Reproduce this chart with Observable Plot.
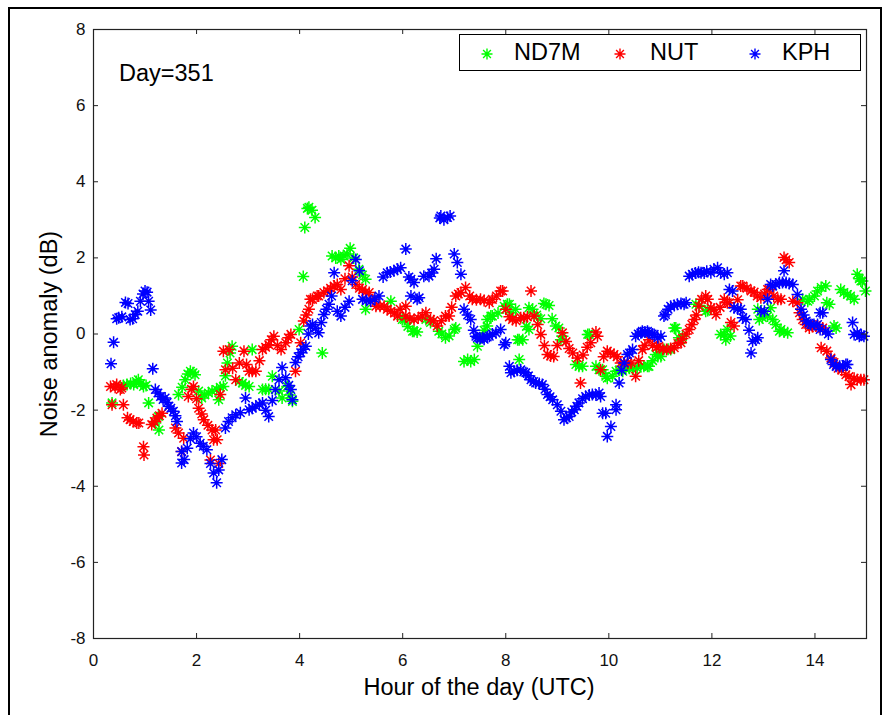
<!DOCTYPE html>
<html>
<head>
<meta charset="utf-8">
<script src="https://cdn.jsdelivr.net/npm/d3@7"></script>
<script src="https://cdn.jsdelivr.net/npm/@observablehq/plot@0.6"></script>
<style>
  html, body { margin: 0; padding: 0; background: #fff; }
  #wrap { position: relative; width: 889px; height: 715px; overflow: hidden; background: #fff;
          font-family: "Liberation Sans", Arial, Helvetica, sans-serif; color: #000; }
  #outer { position: absolute; left: 8px; top: 7px; width: 874px; height: 730px; border: 2px solid #000; box-sizing: border-box; }
  .title { position: absolute; font-size: 23.5px; white-space: nowrap; line-height: 1; }
  #xlabel { left: 479px; top: 676px; transform: translateX(-50%); }
  #ylabel { left: 50px; top: 334px; transform: translate(-50%, -50%) rotate(-90deg); }
  #day { left: 119px; top: 62px; }
  #legend { position: absolute; left: 459px; top: 34px; width: 402px; height: 37px; border: 1px solid #000;
            box-sizing: border-box; background: #fff; }
  #legend .item { position: absolute; top: 0; height: 35px; display: flex; align-items: center; font-size: 23.5px; }
  #legend svg { position: absolute; }
</style>
</head>
<body>
<div id="wrap">
  <div id="outer"></div>
  <div id="chart"></div>
  <div id="day" class="title">Day=351</div>
  <div id="legend"></div>
  <div id="xlabel" class="title">Hour of the day (UTC)</div>
  <div id="ylabel" class="title">Noise anomaly (dB)</div>
</div>
<script>
// ---- data: [hour (UTC), noise anomaly (dB)] ----
const seriesNames = ["ND7M", "NUT", "KPH"];
const seriesColors = ["#00ff00", "#ff0000", "#0000ff"];
const xTicks = [0, 2, 4, 6, 8, 10, 12, 14];
const yTicks = [-8, -6, -4, -2, 0, 2, 4, 6, 8];
const dayLabel = "Day=351";

const nd7m = [
[0.36,-1.81],[0.58,-1.35],[0.65,-1.33],[0.72,-1.30],[0.78,-1.33],[0.83,-1.25],[0.87,-1.20],[0.92,-1.30],[0.97,-1.38],[1.02,-1.35],
[1.07,-1.81],[1.20,-2.34],[1.26,-2.17],[1.27,-2.52],[1.65,-1.59],[1.72,-1.40],[1.78,-1.20],[1.83,-1.05],[1.88,-0.98],[1.93,-1.02],
[1.97,-1.07],[2.04,-1.50],[2.10,-1.68],[2.16,-1.60],[2.23,-1.55],[2.30,-1.50],[2.39,-1.46],[2.43,-1.73],[2.46,-1.40],[2.52,-1.38],
[2.56,-1.10],[2.60,-0.76],[2.65,-0.50],[2.69,-0.32],[2.83,-1.25],[2.89,-1.29],[2.95,-1.35],[3.02,-1.38],[3.08,-0.41],[3.28,-1.46],
[3.34,-1.45],[3.40,-1.46],[3.47,-1.11],[3.60,-1.50],[3.66,-1.68],[3.76,-1.38],[3.81,-1.60],[3.86,-1.77],[3.99,0.12],[4.07,1.51],
[4.10,2.80],[4.15,3.30],[4.18,3.33],[4.24,3.25],[4.30,3.06],[4.44,-0.50],[4.63,2.05],[4.70,2.00],[4.76,2.05],[4.80,1.96],
[4.86,2.05],[4.92,2.10],[4.98,2.25],[5.05,2.00],[5.15,1.70],[5.22,1.55],[5.28,1.44],[5.28,0.65],[5.77,0.86],[5.99,0.38],
[6.03,0.38],[6.10,0.20],[6.19,0.07],[6.22,0.07],[6.28,0.05],[6.45,0.38],[6.54,0.30],[6.70,0.07],[6.76,0.00],[6.83,-0.10],
[6.90,-0.05],[7.00,0.12],[7.03,0.16],[7.19,-0.72],[7.26,-0.67],[7.32,-0.72],[7.39,-0.67],[7.45,-0.32],[7.52,-0.10],[7.58,0.10],
[7.64,0.21],[7.64,0.38],[7.71,0.47],[7.74,0.47],[7.85,0.55],[7.97,0.73],[8.03,0.78],[8.07,0.78],[8.10,0.56],[8.19,0.65],
[8.23,-0.15],[8.26,-0.15],[8.33,-0.15],[8.26,-0.67],[8.40,0.20],[8.45,0.12],[8.45,0.69],[8.52,0.65],[8.60,0.50],[8.68,0.40],
[8.74,0.80],[8.78,0.78],[8.84,0.75],[8.90,0.40],[8.97,0.21],[9.03,0.16],[9.07,-0.15],[9.10,-0.06],[9.36,-0.80],[9.42,-0.85],
[9.49,-0.85],[9.59,-0.01],[9.62,-0.01],[9.75,-0.85],[9.81,-0.94],[9.88,-0.94],[9.94,-1.11],[9.97,-1.16],[10.07,-1.11],[10.14,-0.98],
[10.20,-0.95],[10.27,-0.98],[10.33,-0.89],[10.40,-0.90],[10.46,-0.92],[10.55,-0.90],[10.62,-0.85],[10.68,-0.85],[10.75,-0.85],[10.78,-0.85],
[10.85,-0.70],[10.91,-0.54],[10.95,-0.59],[11.01,-0.59],[11.07,-0.41],[11.15,-0.40],[11.20,-0.41],[11.27,0.16],[11.30,0.16],[11.36,-0.10],
[11.40,-0.15],[11.43,-0.06],[11.69,0.78],[11.75,0.75],[11.88,0.60],[11.92,0.62],[12.17,-0.01],[12.24,-0.01],[12.27,-0.15],[12.30,0.12],
[12.36,-0.05],[12.89,0.65],[12.92,0.38],[12.98,0.43],[13.08,0.47],[13.14,0.69],[13.18,0.38],[13.24,0.25],[13.31,0.07],[13.34,0.12],
[13.40,0.05],[13.47,0.03],[13.76,0.91],[13.86,0.86],[13.89,0.91],[13.99,1.00],[14.05,1.13],[14.12,1.22],[14.21,1.26],[14.23,0.82],
[14.28,0.78],[14.37,0.21],[14.41,0.16],[14.50,1.17],[14.56,1.09],[14.63,1.04],[14.69,1.00],[14.76,0.91],[14.82,1.57],[14.86,1.45],
[14.89,1.39],[14.92,1.39],[14.98,1.13]
];

const nut = [
[0.33,-1.38],[0.36,-1.86],[0.42,-1.40],[0.45,-1.33],[0.52,-1.46],[0.55,-1.42],[0.58,-1.86],[0.66,-2.20],[0.71,-2.25],[0.77,-2.30],
[0.84,-2.34],[0.88,-2.34],[0.97,-2.96],[0.98,-3.18],[1.13,-2.38],[1.18,-2.30],[1.23,-2.21],[1.28,-2.15],[1.33,-2.08],[1.59,-2.47],
[1.65,-2.60],[1.71,-3.09],[1.75,-2.74],[1.84,-1.64],[1.90,-1.45],[1.94,-1.38],[2.00,-1.70],[2.04,-1.95],[2.10,-2.10],[2.14,-2.25],
[2.22,-2.40],[2.30,-2.52],[2.33,-2.78],[2.27,-3.31],[2.37,-2.52],[2.40,-2.78],[2.43,-3.40],[2.46,-1.59],[2.52,-0.45],[2.56,-0.94],
[2.63,-0.41],[2.70,-0.90],[2.76,-1.20],[2.83,-0.76],[2.92,-0.45],[2.97,-0.80],[3.02,-0.98],[3.08,-0.98],[3.15,-0.98],[3.22,-0.70],
[3.28,-0.41],[3.34,-0.35],[3.40,-0.28],[3.45,-0.15],[3.50,-0.06],[3.57,-0.30],[3.64,-0.41],[3.73,-0.23],[3.78,-0.10],[3.83,-0.01],
[3.92,-0.98],[4.02,-0.23],[4.08,0.34],[4.13,0.50],[4.18,0.65],[4.21,0.91],[4.25,0.91],[4.34,1.00],[4.37,1.00],[4.47,1.09],
[4.54,1.13],[4.60,1.20],[4.67,1.26],[4.73,1.30],[4.80,1.17],[4.88,1.45],[4.96,1.79],[5.02,1.50],[5.09,1.30],[5.16,1.20],
[5.22,1.17],[5.28,1.10],[5.35,1.09],[5.42,0.90],[5.48,0.73],[5.56,0.73],[5.64,0.73],[5.70,0.65],[5.77,0.60],[5.84,0.55],
[5.90,0.47],[5.95,0.65],[6.06,0.73],[6.06,0.47],[6.14,0.40],[6.22,0.38],[6.30,0.42],[6.38,0.47],[6.45,0.56],[6.54,0.38],
[6.60,0.35],[6.67,0.21],[6.75,0.35],[6.83,0.47],[6.90,0.47],[6.95,0.70],[7.03,1.00],[7.08,1.05],[7.13,1.09],[7.22,1.22],
[7.30,1.00],[7.35,0.91],[7.43,0.90],[7.51,0.91],[7.58,0.88],[7.68,0.82],[7.74,0.91],[7.82,1.00],[7.90,1.13],[7.94,1.13],
[8.00,0.65],[8.07,0.45],[8.13,0.38],[8.20,0.35],[8.29,0.43],[8.35,0.43],[8.42,0.45],[8.49,1.13],[8.55,0.47],[8.62,0.25],
[8.68,-0.01],[8.75,-0.30],[8.81,-0.54],[8.87,-0.58],[8.93,-0.59],[9.00,-0.30],[9.10,0.03],[9.17,-0.20],[9.23,-0.38],[9.30,-0.50],
[9.39,-0.63],[9.45,-1.29],[9.50,-0.55],[9.58,-0.35],[9.65,-0.23],[9.75,0.05],[9.78,-0.06],[9.84,-0.94],[9.90,-0.60],[9.97,-0.45],
[10.03,-0.50],[10.10,-0.54],[10.16,-0.60],[10.23,-0.76],[10.30,-0.76],[10.37,-0.76],[10.43,-0.76],[10.52,-1.11],[10.58,-0.70],[10.65,-0.41],
[10.70,-0.30],[10.78,-0.15],[10.85,-0.30],[10.93,-0.35],[10.97,-0.32],[11.05,-0.40],[11.12,-0.41],[11.20,-0.38],[11.27,-0.36],[11.34,-0.25],
[11.40,-0.23],[11.43,-0.12],[11.50,0.00],[11.56,0.12],[11.61,0.25],[11.66,0.38],[11.70,0.50],[11.75,0.73],[11.80,0.91],[11.88,1.00],
[11.92,0.91],[11.98,0.69],[12.04,0.65],[12.08,0.51],[12.16,0.70],[12.24,0.91],[12.30,0.82],[12.34,0.82],[12.37,0.30],[12.43,0.21],
[12.50,0.90],[12.56,1.26],[12.60,1.26],[12.68,1.20],[12.76,1.13],[12.82,1.10],[12.88,1.00],[12.95,0.95],[13.02,1.05],[13.08,1.17],
[13.11,1.17],[13.20,1.00],[13.28,0.91],[13.34,0.91],[13.40,2.01],[13.44,1.95],[13.50,1.88],[13.57,0.86],[13.66,0.82],[13.70,0.56],
[13.76,0.38],[13.82,0.25],[13.89,0.16],[13.95,0.20],[14.02,0.21],[14.08,0.18],[14.15,0.16],[14.12,-0.36],[14.23,-0.45],[14.31,-0.63],
[14.37,-0.75],[14.45,-0.90],[14.52,-0.95],[14.60,-1.07],[14.66,-1.12],[14.70,-1.33],[14.76,-1.16],[14.82,-1.20],[14.89,-1.20],[14.95,-1.20]
];

const kph = [
[0.34,-0.78],[0.39,-0.22],[0.45,0.40],[0.49,0.43],[0.55,0.45],[0.62,0.83],[0.67,0.80],[0.71,0.38],[0.76,0.40],[0.81,0.51],
[0.86,0.60],[0.91,0.86],[0.96,1.05],[1.00,1.13],[1.04,1.10],[1.07,0.86],[1.11,0.63],[1.15,-0.91],[1.20,-1.46],[1.25,-1.55],
[1.30,-1.64],[1.35,-1.72],[1.39,-1.68],[1.43,-1.80],[1.46,-1.90],[1.50,-1.95],[1.55,-2.03],[1.59,-2.15],[1.62,-2.30],[1.71,-3.09],
[1.71,-3.39],[1.76,-3.30],[1.82,-3.00],[1.88,-2.75],[1.94,-2.60],[2.00,-2.70],[2.07,-2.87],[2.13,-2.95],[2.20,-3.04],[2.27,-3.40],
[2.33,-3.65],[2.39,-3.91],[2.43,-3.57],[2.49,-3.30],[2.56,-2.47],[2.62,-2.30],[2.69,-2.20],[2.76,-2.12],[2.85,-2.07],[2.95,-1.68],
[3.02,-1.99],[3.08,-1.95],[3.15,-1.90],[3.22,-1.85],[3.28,-1.81],[3.34,-2.00],[3.40,-2.17],[3.47,-1.75],[3.53,-1.46],[3.60,-1.20],
[3.66,-0.88],[3.73,-1.15],[3.79,-1.35],[3.83,-1.46],[3.86,-1.73],[3.92,-0.75],[3.97,-0.60],[4.02,-0.49],[4.07,-0.40],[4.12,-0.32],
[4.17,0.00],[4.21,0.21],[4.25,0.25],[4.31,0.15],[4.37,0.03],[4.42,0.30],[4.47,0.51],[4.52,0.65],[4.57,0.78],[4.62,1.00],
[4.67,1.61],[4.73,0.60],[4.80,0.47],[4.88,0.70],[4.96,0.86],[5.02,1.40],[5.09,1.96],[5.16,1.66],[5.22,0.91],[5.30,0.88],
[5.38,0.86],[5.46,0.92],[5.54,1.00],[5.62,1.50],[5.70,1.61],[5.76,1.63],[5.83,1.66],[5.90,1.70],[5.96,1.74],[6.06,2.23],
[6.12,1.50],[6.16,1.44],[6.16,1.00],[6.22,1.35],[6.28,0.91],[6.32,0.95],[6.41,1.52],[6.51,1.52],[6.56,1.60],[6.61,1.70],
[6.65,1.98],[6.72,3.05],[6.74,3.10],[6.80,3.00],[6.87,3.06],[6.92,3.10],[7.00,2.10],[7.06,1.88],[7.13,1.57],[7.19,0.65],
[7.26,0.50],[7.32,0.38],[7.38,0.10],[7.42,-0.06],[7.45,-0.10],[7.50,-0.12],[7.55,-0.10],[7.58,-0.14],[7.64,-0.08],[7.68,-0.06],
[7.74,0.00],[7.81,0.03],[7.90,0.12],[7.97,-0.28],[8.00,-0.23],[8.07,-0.85],[8.10,-1.02],[8.16,-0.98],[8.22,-0.95],[8.29,-0.94],
[8.35,-1.00],[8.39,-1.02],[8.44,-1.10],[8.49,-1.20],[8.54,-1.25],[8.58,-1.29],[8.65,-1.30],[8.71,-1.33],[8.76,-1.45],[8.81,-1.59],
[8.86,-1.65],[8.91,-1.73],[9.00,-1.86],[9.07,-2.03],[9.13,-2.25],[9.18,-2.20],[9.23,-2.17],[9.28,-2.05],[9.33,-1.99],[9.38,-1.90],
[9.42,-1.81],[9.49,-1.70],[9.55,-1.64],[9.62,-1.60],[9.68,-1.59],[9.75,-1.60],[9.81,-1.55],[9.84,-1.64],[9.88,-2.08],[9.94,-2.08],
[9.97,-2.69],[10.04,-2.43],[10.14,-1.99],[10.14,-1.86],[10.20,-1.29],[10.25,-0.95],[10.30,-0.76],[10.36,-0.54],[10.40,-0.50],[10.46,-0.41],
[10.52,-0.06],[10.57,0.00],[10.62,0.03],[10.65,0.07],[10.70,0.05],[10.75,0.07],[10.78,0.03],[10.84,0.00],[10.88,-0.01],[10.95,-0.10],
[11.01,-0.06],[11.07,0.47],[11.10,0.51],[11.15,0.65],[11.20,0.73],[11.27,0.75],[11.33,0.78],[11.40,0.80],[11.46,0.78],[11.50,0.82],
[11.56,1.52],[11.62,1.57],[11.68,1.60],[11.74,1.62],[11.79,1.61],[11.85,1.60],[11.90,1.65],[11.98,1.61],[12.04,1.70],[12.11,1.74],
[12.17,1.61],[12.24,1.57],[12.30,1.61],[12.34,1.17],[12.40,1.13],[12.43,0.69],[12.50,0.66],[12.56,0.65],[12.60,0.43],[12.66,0.38],
[12.72,0.10],[12.76,-0.50],[12.79,-0.19],[12.85,-0.15],[12.89,-0.10],[12.95,0.60],[13.02,0.60],[13.08,0.91],[13.14,1.30],[13.18,1.26],
[13.24,1.30],[13.31,1.35],[13.37,1.35],[13.40,1.66],[13.44,1.35],[13.50,1.33],[13.57,1.30],[13.66,1.04],[13.73,0.65],[13.78,0.50],
[13.83,0.34],[13.88,0.28],[13.92,0.25],[13.98,0.25],[14.05,0.25],[14.10,0.56],[14.15,0.56],[14.10,0.12],[14.21,0.07],[14.26,0.00],
[14.31,-0.67],[14.36,-0.80],[14.41,-0.85],[14.48,-0.85],[14.54,-0.85],[14.60,-0.80],[14.63,-0.80],[14.73,0.30],[14.76,-0.01],[14.82,0.03],
[14.86,-0.06],[14.90,-0.03],[14.95,-0.06]
];

const seriesData = [nd7m, nut, kph];

// 8-armed asterisk (plus + cross), like Octave's '*' marker
const asterisk8 = {
  draw(ctx, size) {
    const r = Math.sqrt(size / Math.PI);
    const d = r * Math.SQRT1_2;
    ctx.moveTo(-r, 0); ctx.lineTo(r, 0);
    ctx.moveTo(0, -r); ctx.lineTo(0, r);
    ctx.moveTo(-d, -d); ctx.lineTo(d, d);
    ctx.moveTo(-d, d); ctx.lineTo(d, -d);
  }
};

const W = 889, H = 715;
const mL = 93, mR = 23, mT = 29, mB = 77;
const plotW = W - mL - mR, plotH = H - mT - mB;
const tickLen = 5;
const axisColor = "#222";
const markerR = 6;
const markerStroke = 1.5;

const marks = [];
seriesData.forEach((data, i) => {
  marks.push(Plot.dot(data, {
    x: d => d[0], y: d => d[1],
    symbol: asterisk8, r: markerR, fill: "none",
    stroke: seriesColors[i], strokeWidth: markerStroke
  }));
});

const chart = Plot.plot({
  width: W, height: H,
  marginLeft: mL, marginRight: mR, marginTop: mT, marginBottom: mB,
  style: { fontFamily: '"Liberation Sans", Arial, sans-serif', background: "transparent", overflow: "visible" },
  x: { domain: [0, 15] },
  y: { domain: [-8, 8] },
  marks: [
    ...marks,
    Plot.frame({ stroke: axisColor, strokeWidth: 1.2 }),
    Plot.tickX(xTicks, { x: d => d, stroke: axisColor, insetTop: plotH - tickLen }),
    Plot.tickX(xTicks, { x: d => d, stroke: axisColor, insetBottom: plotH - tickLen }),
    Plot.tickY(yTicks, { y: d => d, stroke: axisColor, insetRight: plotW - tickLen }),
    Plot.tickY(yTicks, { y: d => d, stroke: axisColor, insetLeft: plotW - tickLen }),
    Plot.axisX(xTicks, { anchor: "bottom", tickSize: 0, tickPadding: 15, fontSize: 17, label: null, tickFormat: d => String(d), fill: "#111" }),
    Plot.axisY(yTicks, { anchor: "left", tickSize: 0, tickPadding: 8, fontSize: 17, label: null, tickFormat: d => String(d), fill: "#111" })
  ]
});
document.getElementById("chart").appendChild(chart);

document.getElementById("day").textContent = dayLabel;

// legend
const legend = document.getElementById("legend");
const legendSymbolX = [27, 160, 295];
const legendTextX = [54, 190, 322];
seriesNames.forEach((name, i) => {
  const ns = "http://www.w3.org/2000/svg";
  const svg = document.createElementNS(ns, "svg");
  svg.setAttribute("width", 16); svg.setAttribute("height", 16);
  svg.style.left = (legendSymbolX[i] - 8) + "px";
  svg.style.top = (19 - 8) + "px";
  const path = document.createElementNS(ns, "path");
  const p = d3.path();
  asterisk8.draw(p, 5.5 * 5.5 * Math.PI);
  path.setAttribute("d", p.toString());
  path.setAttribute("transform", "translate(8,8)");
  path.setAttribute("stroke", seriesColors[i]);
  path.setAttribute("stroke-width", 1.4);
  path.setAttribute("fill", "none");
  svg.appendChild(path);
  legend.appendChild(svg);
  const t = document.createElement("div");
  t.className = "item";
  t.style.left = legendTextX[i] + "px";
  t.textContent = name;
  legend.appendChild(t);
});
</script>
</body>
</html>
